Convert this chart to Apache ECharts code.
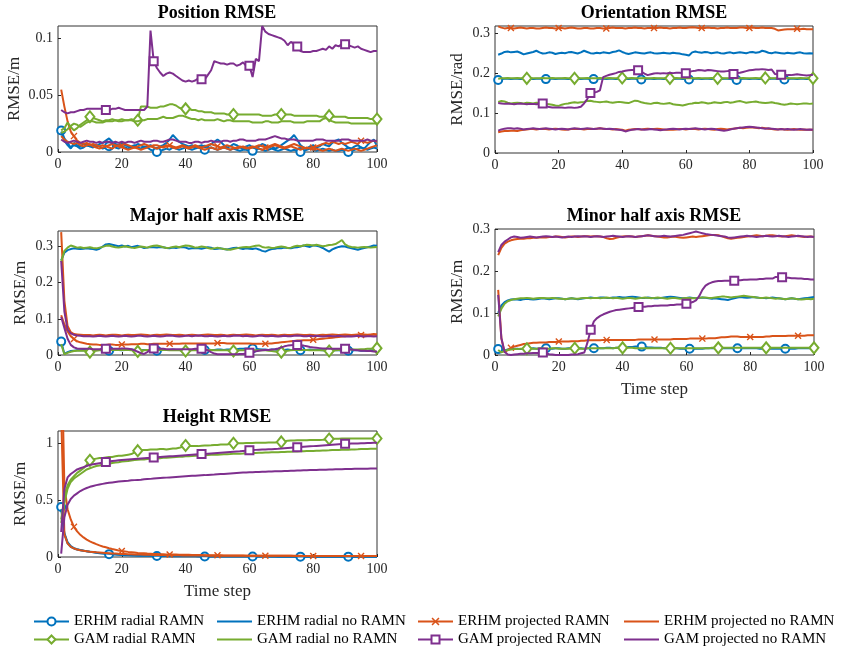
<!DOCTYPE html>
<html>
<head>
<meta charset="utf-8">
<script src="https://cdn.jsdelivr.net/npm/echarts@6/dist/echarts.min.js"></script>
<style>
html,body{margin:0;padding:0;background:#fff}
#chart{width:844px;height:651px}
</style>
</head>
<body>
<div id="chart"></div>
<script>
// ---------- time axis ----------
const steps = Array.from({length: 100}, (_, i) => i + 1);
const xTicks = [0, 20, 40, 60, 80, 100];

// ---------- Position RMSE (m) ----------
const posErhmRadialRamn = [
.019,.012,.008,.004,.006,.005,.003,.004,.006,.005,
.004,.006,.005,.003,.004,.005,.006,.004,.003,.005,
.004,.003,.005,.006,.004,.003,.005,.004,.002,.001,
0,.001,.002,.003,.002,.004,.003,.002,.003,.004,
.003,.002,.003,.004,.003,.002,.003,.004,.003,.002,
.003,.004,.003,.002,.003,.002,.001,.002,.002,.001,
.001,.002,.003,.002,.001,.002,.003,.002,.001,.002,
.003,.002,.001,.002,.001,0,.001,.002,.003,.002,
.001,.002,.003,.002,.001,.002,.001,.001,.002,.001,
0,.001,.002,.003,.004,.003,.002,.003,.004,.003];
const posErhmRadialNo = [
.018,.010,.006,.003,.008,.006,.005,.007,.006,.005,
.006,.005,.007,.008,.010,.012,.009,.007,.006,.008,
.006,.005,.004,.005,.007,.006,.004,.005,.006,.004,
.003,.005,.006,.008,.011,.015,.012,.009,.007,.006,
.005,.006,.004,.005,.006,.004,.005,.007,.009,.011,
.009,.006,.004,.005,.007,.006,.004,.003,.005,.006,
.004,.003,.005,.007,.006,.004,.005,.003,.004,.006,
.008,.010,.012,.015,.011,.006,.004,.003,.005,.006,
.004,.005,.007,.006,.005,.008,.010,.011,.008,.006,
.004,.003,.005,.006,.004,.003,.006,.009,.011,.005];
const posErhmProjRamn = [
.055,.040,.027,.018,.014,.010,.008,.007,.008,.006,
.007,.006,.005,.006,.005,.006,.007,.006,.005,.006,
.007,.006,.005,.004,.005,.006,.007,.006,.005,.006,
.006,.005,.004,.005,.006,.005,.004,.005,.006,.005,
.004,.005,.006,.005,.004,.005,.006,.007,.006,.005,
.004,.005,.006,.005,.004,.003,.004,.005,.004,.003,
.004,.005,.006,.005,.004,.005,.006,.007,.006,.005,
.004,.005,.006,.007,.006,.005,.004,.003,.004,.004,
.005,.006,.007,.008,.007,.009,.008,.007,.008,.007,
.008,.009,.008,.007,.010,.009,.008,.009,.010,.009];
const posErhmProjNo = [
.014,.011,.009,.008,.007,.008,.006,.005,.006,.007,
.005,.004,.003,.004,.005,.004,.003,.005,.006,.004,
.003,.002,.003,.004,.003,.002,.003,.004,.005,.004,
.003,.004,.005,.006,.005,.004,.003,.004,.005,.004,
.003,.004,.005,.004,.003,.002,.003,.004,.003,.002,
.003,.004,.003,.002,.003,.004,.005,.004,.003,.004,
.005,.004,.003,.002,.003,.004,.005,.006,.005,.004,
.003,.004,.005,.004,.003,.002,.003,.004,.003,.002,
.003,.002,.001,.002,.003,.002,.001,.002,.003,.002,
.001,.002,.003,.002,.001,.002,.003,.004,.005,.006];
const posGamRadialRamn = [
.019,.021,.026,.022,.019,.021,.024,.026,.028,.031,
.030,.029,.028,.027,.028,.028,.029,.028,.028,.029,
.028,.028,.029,.028,.028,.040,.040,.040,.039,.039,
.039,.040,.040,.041,.042,.042,.041,.039,.038,.038,
.038,.037,.037,.036,.036,.035,.035,.035,.034,.034,
.034,.034,.033,.033,.033,.033,.033,.033,.033,.033,
.033,.033,.033,.032,.032,.032,.032,.033,.033,.033,
.033,.033,.033,.032,.032,.032,.032,.032,.032,.032,
.032,.031,.031,.031,.032,.031,.031,.031,.031,.031,
.030,.030,.030,.030,.030,.030,.030,.029,.029,.029];
const posGamRadialNo = [
.017,.018,.020,.023,.025,.024,.022,.024,.026,.027,
.027,.026,.026,.026,.027,.027,.027,.028,.027,.027,
.028,.028,.028,.027,.027,.028,.028,.029,.029,.029,
.029,.030,.031,.030,.030,.030,.031,.032,.032,.031,
.030,.029,.029,.028,.029,.028,.028,.028,.028,.029,
.028,.027,.028,.028,.027,.027,.027,.027,.027,.027,
.026,.026,.026,.026,.027,.027,.026,.026,.026,.027,
.027,.027,.027,.026,.026,.026,.026,.027,.027,.027,
.027,.027,.029,.030,.028,.027,.026,.026,.026,.026,
.026,.025,.025,.025,.025,.025,.025,.025,.025,.025];
const posGamProjRamn = [
.037,.035,.034,.035,.035,.036,.037,.037,.038,.038,
.038,.038,.038,.038,.037,.037,.038,.038,.039,.038,
.037,.037,.037,.037,.037,.037,.037,.040,.107,.080,
.074,.070,.067,.069,.070,.069,.067,.065,.063,.062,
.063,.062,.063,.065,.064,.064,.068,.072,.080,.079,
.078,.078,.077,.078,.078,.076,.077,.079,.076,.076,
.066,.082,.080,.111,.106,.104,.103,.102,.101,.100,
.098,.094,.097,.095,.093,.089,.088,.088,.088,.089,
.089,.090,.091,.090,.093,.091,.094,.093,.095,.095,
.094,.093,.092,.093,.091,.090,.089,.088,.089,.089];
const posGamProjNo = [
.011,.009,.008,.009,.010,.009,.008,.009,.010,.009,
.009,.008,.009,.008,.009,.009,.008,.009,.008,.009,
.008,.009,.009,.008,.009,.010,.009,.009,.009,.010,
.010,.009,.009,.010,.011,.011,.010,.009,.009,.009,
.008,.008,.009,.009,.008,.009,.009,.010,.009,.009,
.009,.010,.010,.009,.010,.010,.011,.011,.010,.010,
.010,.010,.011,.011,.011,.012,.013,.014,.013,.012,
.012,.011,.011,.011,.010,.010,.010,.010,.010,.010,
.011,.011,.011,.010,.010,.010,.010,.010,.011,.011,
.011,.010,.010,.010,.010,.010,.011,.010,.010,.010];

// ---------- Orientation RMSE (rad) ----------
const oriErhmRadialRamn = [
.183,.185,.186,.186,.185,.186,.186,.185,.186,.186,
.186,.185,.186,.186,.186,.185,.186,.186,.185,.186,
.186,.186,.185,.186,.186,.186,.185,.186,.186,.185,
.185,.186,.186,.186,.185,.186,.186,.185,.186,.186,
.186,.185,.186,.186,.185,.184,.185,.186,.186,.185,
.186,.186,.185,.186,.186,.185,.186,.186,.185,.186,
.184,.185,.186,.186,.185,.186,.186,.185,.186,.186,
.185,.186,.186,.185,.184,.183,.185,.186,.186,.185,
.186,.186,.185,.186,.186,.185,.186,.186,.185,.186,
.184,.185,.186,.186,.185,.186,.186,.185,.186,.186];
const oriErhmRadialNo = [
.246,.249,.253,.254,.252,.253,.254,.251,.247,.249,
.251,.253,.256,.252,.249,.250,.252,.251,.248,.250,
.251,.250,.252,.253,.251,.249,.252,.256,.253,.250,
.249,.251,.250,.252,.251,.250,.253,.254,.257,.253,
.250,.248,.250,.252,.251,.250,.249,.251,.252,.250,
.249,.250,.251,.250,.249,.251,.250,.249,.247,.246,
.244,.252,.254,.252,.251,.253,.252,.250,.251,.252,
.250,.249,.251,.252,.250,.251,.252,.251,.250,.252,
.253,.251,.252,.256,.254,.251,.250,.252,.251,.250,
.249,.251,.250,.249,.251,.252,.250,.249,.250,.249];
const oriErhmProjRamn = [
.317,.314,.312,.313,.313,.312,.313,.314,.313,.312,
.313,.313,.312,.312,.313,.314,.313,.313,.312,.313,
.313,.312,.313,.314,.313,.312,.312,.313,.313,.312,
.312,.313,.313,.312,.312,.313,.314,.313,.313,.313,
.312,.313,.313,.314,.313,.313,.312,.313,.313,.313,
.313,.314,.313,.313,.312,.313,.313,.314,.313,.313,
.314,.315,.314,.313,.313,.313,.314,.313,.313,.312,
.313,.313,.314,.313,.313,.313,.314,.314,.313,.313,
.314,.313,.313,.314,.313,.313,.313,.311,.307,.308,
.309,.310,.310,.310,.311,.310,.311,.310,.310,.310];
const oriErhmProjNo = [
.052,.054,.055,.055,.056,.056,.055,.057,.058,.059,
.060,.060,.059,.060,.061,.060,.059,.060,.061,.060,
.059,.058,.059,.060,.060,.061,.060,.059,.060,.061,
.060,.061,.062,.061,.060,.060,.059,.060,.059,.058,
.056,.058,.059,.060,.060,.059,.060,.061,.060,.060,
.061,.060,.059,.058,.059,.058,.059,.060,.060,.059,
.060,.061,.060,.059,.060,.061,.060,.059,.058,.060,
.061,.060,.059,.060,.061,.062,.063,.062,.063,.064,
.064,.063,.062,.063,.062,.061,.060,.059,.059,.060,
.059,.058,.059,.060,.059,.058,.059,.058,.058,.058];
const oriGamRadialRamn = [
.186,.187,.187,.188,.187,.187,.188,.187,.187,.187,
.188,.187,.187,.187,.188,.187,.187,.188,.187,.187,
.187,.188,.187,.187,.187,.188,.187,.187,.188,.187,
.187,.187,.188,.187,.187,.188,.187,.187,.187,.188,
.187,.187,.188,.187,.187,.187,.188,.187,.187,.188,
.187,.187,.187,.188,.187,.187,.188,.187,.187,.187,
.188,.187,.187,.188,.187,.187,.187,.188,.187,.187,
.188,.187,.187,.187,.188,.187,.187,.188,.187,.187,
.187,.188,.187,.187,.188,.187,.187,.187,.188,.187,
.187,.188,.187,.187,.187,.188,.187,.187,.188,.187];
const oriGamRadialNo = [
.128,.130,.129,.126,.124,.125,.126,.125,.124,.126,
.125,.124,.126,.125,.124,.123,.122,.121,.119,.118,
.121,.123,.124,.126,.127,.126,.127,.128,.130,.131,
.129,.128,.127,.128,.129,.127,.126,.127,.128,.127,
.126,.125,.128,.131,.130,.127,.125,.124,.123,.125,
.126,.124,.123,.124,.125,.122,.121,.120,.119,.121,
.123,.124,.126,.125,.127,.126,.124,.125,.127,.126,
.125,.127,.128,.126,.127,.129,.130,.128,.126,.127,
.128,.129,.127,.126,.125,.126,.127,.125,.124,.122,
.121,.122,.124,.123,.122,.123,.124,.124,.123,.124];
const oriGamProjRamn = [
.125,.124,.123,.124,.123,.122,.123,.124,.123,.122,
.123,.123,.122,.123,.124,.118,.115,.114,.114,.114,
.114,.113,.114,.114,.113,.114,.116,.124,.135,.150,
.151,.153,.157,.190,.193,.196,.198,.200,.203,.204,
.206,.207,.208,.208,.207,.204,.199,.195,.197,.199,
.200,.199,.200,.199,.201,.200,.201,.201,.200,.200,
.203,.205,.206,.208,.207,.206,.208,.207,.206,.205,
.204,.204,.205,.206,.198,.200,.201,.203,.205,.207,
.208,.209,.209,.210,.209,.208,.209,.198,.197,.196,
.196,.195,.195,.196,.197,.196,.195,.194,.195,.196];
const oriGamProjNo = [
.056,.059,.061,.062,.062,.061,.062,.061,.059,.060,
.061,.062,.061,.060,.061,.062,.061,.060,.059,.060,
.061,.060,.059,.061,.062,.061,.060,.061,.062,.061,
.060,.061,.062,.061,.060,.061,.060,.059,.058,.057,
.054,.056,.058,.059,.060,.059,.058,.059,.060,.059,
.058,.057,.058,.059,.060,.061,.060,.059,.060,.061,
.060,.061,.062,.061,.060,.059,.060,.061,.060,.058,
.057,.056,.057,.059,.061,.062,.063,.064,.065,.066,
.065,.064,.063,.062,.061,.062,.061,.060,.059,.060,
.059,.060,.059,.058,.059,.060,.059,.058,.059,.058];

// ---------- Major half axis RMSE (m) ----------
const majErhmRadialRamn = [
.037,.003,.008,.011,.012,.013,.013,.014,.013,.013,
.013,.014,.014,.013,.013,.012,.013,.014,.014,.013,
.014,.014,.015,.014,.014,.013,.014,.014,.013,.013,
.012,.013,.014,.014,.014,.015,.014,.014,.013,.014,
.014,.014,.015,.015,.014,.014,.015,.014,.014,.015,
.015,.014,.015,.015,.016,.016,.017,.017,.018,.018,
.018,.017,.016,.015,.015,.014,.015,.015,.014,.014,
.014,.015,.014,.014,.013,.013,.014,.014,.015,.014,
.014,.014,.013,.013,.014,.014,.013,.013,.012,.012,
.012,.012,.013,.013,.012,.012,.012,.013,.012,.012];
const majErhmRadialNo = [
.262,.283,.290,.293,.295,.294,.293,.294,.295,.294,
.293,.291,.294,.300,.306,.307,.305,.303,.301,.303,
.300,.302,.298,.300,.302,.299,.296,.297,.299,.298,
.297,.299,.298,.296,.295,.297,.296,.298,.299,.297,
.294,.295,.296,.295,.294,.296,.298,.297,.293,.294,
.295,.293,.292,.294,.296,.297,.295,.293,.295,.294,
.293,.295,.292,.288,.286,.290,.293,.294,.296,.295,
.297,.296,.295,.297,.298,.300,.303,.301,.299,.303,
.302,.300,.296,.291,.286,.292,.296,.299,.301,.300,
.297,.295,.293,.291,.294,.296,.298,.300,.303,.302];
const majErhmProjRamn = [
.110,.085,.065,.052,.044,.038,.035,.033,.031,.030,
.029,.029,.028,.028,.028,.029,.029,.028,.028,.029,
.029,.029,.030,.030,.030,.031,.031,.030,.030,.031,
.031,.031,.031,.031,.031,.031,.031,.031,.032,.032,
.032,.032,.032,.032,.032,.032,.032,.032,.032,.033,
.033,.033,.032,.032,.032,.032,.032,.032,.032,.032,
.031,.031,.031,.031,.031,.032,.032,.033,.034,.035,
.036,.037,.038,.039,.040,.040,.041,.041,.041,.042,
.043,.044,.045,.046,.047,.048,.049,.050,.051,.052,
.053,.053,.054,.054,.055,.055,.055,.055,.056,.056];
const majErhmProjNo = [
.340,.150,.080,.063,.058,.057,.056,.055,.055,.055,
.054,.055,.056,.055,.054,.055,.056,.056,.055,.054,
.055,.056,.055,.055,.056,.057,.056,.055,.054,.055,
.056,.055,.056,.057,.056,.055,.055,.056,.055,.054,
.055,.056,.055,.054,.055,.056,.057,.056,.055,.055,
.056,.055,.054,.055,.056,.055,.055,.056,.057,.056,
.055,.054,.055,.056,.055,.055,.056,.055,.054,.055,
.056,.055,.055,.056,.057,.056,.055,.055,.056,.055,
.054,.055,.056,.055,.056,.057,.056,.055,.056,.057,
.056,.055,.056,.057,.058,.057,.056,.057,.058,.057];
const majGamRadialRamn = [
.030,.002,.006,.009,.011,.012,.012,.012,.011,.008,
.011,.012,.013,.013,.013,.013,.014,.014,.014,.014,
.014,.014,.013,.012,.010,.012,.013,.014,.014,.014,
.014,.014,.014,.014,.013,.013,.013,.013,.012,.011,
.012,.013,.013,.013,.013,.014,.014,.014,.013,.013,
.013,.013,.013,.012,.011,.012,.013,.013,.013,.014,
.014,.013,.013,.013,.013,.012,.011,.010,.009,.008,
.010,.012,.013,.014,.014,.014,.014,.014,.013,.013,
.013,.013,.013,.012,.011,.012,.013,.014,.014,.015,
.015,.015,.015,.015,.016,.016,.017,.017,.018,.019];
const majGamRadialNo = [
.258,.288,.297,.303,.300,.297,.298,.296,.297,.298,
.296,.295,.297,.299,.302,.303,.300,.298,.297,.299,
.301,.299,.297,.296,.298,.300,.299,.297,.300,.302,
.303,.301,.298,.296,.297,.299,.300,.298,.301,.303,
.302,.300,.297,.298,.300,.299,.296,.294,.295,.297,
.295,.293,.292,.291,.293,.295,.297,.298,.299,.298,
.300,.302,.303,.299,.297,.298,.296,.297,.299,.300,
.299,.296,.297,.300,.302,.301,.303,.305,.304,.303,
.305,.303,.301,.302,.304,.305,.307,.312,.318,.306,
.301,.299,.298,.297,.298,.299,.298,.297,.298,.299];
const majGamProjRamn = [
.105,.075,.045,.028,.021,.018,.017,.017,.017,.017,
.016,.016,.016,.017,.017,.017,.017,.017,.017,.018,
.018,.017,.016,.013,.009,.005,.003,.008,.016,.018,
.018,.017,.017,.016,.016,.016,.016,.016,.016,.016,
.016,.016,.017,.017,.017,.016,.013,.008,.004,.002,
.002,.002,.002,.002,.002,.002,.003,.003,.004,.006,
.008,.010,.012,.013,.014,.014,.015,.016,.018,.021,
.024,.026,.027,.028,.028,.027,.026,.024,.022,.021,
.020,.019,.018,.018,.017,.017,.017,.017,.017,.017,
.016,.015,.014,.013,.012,.012,.011,.011,.010,.010];
const majGamProjNo = [
.260,.120,.070,.060,.056,.054,.053,.052,.052,.052,
.051,.052,.053,.052,.051,.052,.053,.052,.051,.052,
.053,.052,.051,.052,.053,.053,.052,.051,.052,.053,
.052,.051,.052,.053,.054,.053,.052,.051,.052,.053,
.053,.052,.053,.054,.053,.052,.052,.053,.052,.051,
.052,.053,.052,.052,.053,.054,.053,.052,.053,.052,
.051,.052,.053,.053,.052,.052,.053,.052,.051,.052,
.053,.052,.052,.053,.054,.053,.052,.052,.053,.052,
.053,.052,.051,.052,.053,.052,.052,.053,.052,.051,
.052,.051,.052,.053,.052,.051,.052,.052,.051,.052];

// ---------- Minor half axis RMSE (m) ----------
const minErhmRadialRamn = [
.014,.008,.011,.013,.014,.015,.015,.014,.015,.015,
.015,.016,.015,.015,.016,.016,.015,.015,.016,.016,
.015,.015,.016,.016,.015,.016,.016,.015,.016,.016,
.016,.017,.016,.016,.017,.017,.016,.017,.017,.018,
.018,.019,.019,.020,.020,.020,.019,.018,.018,.017,
.017,.017,.016,.016,.016,.016,.016,.015,.015,.015,
.015,.015,.015,.015,.015,.016,.016,.016,.016,.016,
.016,.016,.016,.016,.016,.016,.016,.016,.016,.016,
.016,.016,.015,.015,.015,.015,.015,.015,.015,.015,
.015,.015,.015,.015,.016,.016,.016,.016,.016,.016];
const minErhmRadialNo = [
.100,.118,.126,.130,.132,.133,.132,.131,.133,.134,
.133,.132,.133,.134,.135,.134,.133,.134,.135,.135,
.134,.133,.134,.135,.134,.133,.134,.135,.136,.137,
.136,.136,.137,.137,.136,.136,.137,.137,.138,.137,
.137,.138,.139,.138,.137,.136,.136,.137,.136,.135,
.135,.136,.137,.138,.139,.138,.137,.136,.135,.136,
.137,.136,.135,.136,.137,.136,.135,.134,.135,.134,
.133,.132,.131,.133,.135,.137,.138,.137,.136,.137,
.138,.137,.136,.136,.135,.136,.137,.136,.135,.134,
.133,.134,.135,.134,.133,.134,.135,.136,.137,.138];
const minErhmProjRamn = [
.155,.040,.006,.012,.017,.020,.022,.024,.026,.027,
.028,.029,.029,.030,.030,.030,.031,.031,.031,.032,
.032,.032,.032,.033,.033,.033,.034,.034,.035,.035,
.035,.035,.035,.036,.036,.036,.036,.036,.036,.036,
.036,.036,.036,.036,.037,.037,.037,.037,.037,.037,
.037,.037,.037,.037,.037,.038,.038,.038,.038,.038,
.039,.039,.039,.039,.039,.039,.040,.040,.040,.041,
.042,.042,.043,.044,.044,.044,.043,.043,.043,.043,
.043,.043,.043,.043,.044,.044,.045,.045,.045,.045,
.045,.046,.046,.046,.046,.046,.046,.047,.047,.047];
const minErhmProjNo = [
.238,.255,.265,.270,.273,.275,.276,.277,.277,.278,
.278,.279,.279,.280,.280,.280,.281,.281,.282,.282,
.281,.280,.281,.282,.282,.281,.282,.283,.283,.282,
.283,.283,.282,.281,.278,.276,.277,.279,.281,.282,
.283,.283,.282,.281,.282,.283,.284,.285,.284,.283,
.282,.281,.280,.280,.281,.282,.281,.280,.279,.280,
.281,.282,.281,.282,.283,.284,.285,.286,.286,.285,
.283,.280,.278,.277,.278,.279,.280,.281,.282,.283,
.284,.285,.284,.283,.284,.285,.285,.284,.283,.282,
.283,.284,.285,.284,.283,.282,.281,.282,.282,.281];
const minGamRadialRamn = [
.012,.006,.010,.012,.013,.014,.014,.015,.015,.015,
.016,.015,.015,.016,.016,.015,.015,.016,.016,.015,
.015,.015,.015,.016,.016,.015,.015,.015,.016,.016,
.016,.016,.016,.016,.016,.016,.016,.017,.017,.017,
.017,.017,.017,.016,.016,.016,.016,.016,.016,.016,
.016,.016,.016,.016,.016,.016,.016,.016,.016,.016,
.016,.016,.016,.016,.016,.016,.016,.017,.017,.017,
.017,.017,.017,.017,.017,.017,.017,.017,.017,.017,
.017,.017,.017,.017,.017,.017,.017,.017,.017,.017,
.017,.017,.017,.017,.017,.017,.017,.017,.017,.017];
const minGamRadialNo = [
.092,.110,.122,.128,.131,.133,.134,.135,.135,.136,
.135,.134,.135,.136,.136,.135,.135,.136,.135,.134,
.134,.133,.134,.135,.134,.134,.135,.136,.136,.135,
.136,.136,.135,.136,.137,.136,.135,.136,.135,.134,
.135,.136,.135,.134,.135,.136,.137,.136,.135,.136,
.137,.136,.135,.134,.135,.136,.135,.134,.135,.136,
.136,.135,.135,.136,.137,.137,.136,.136,.137,.138,
.139,.139,.138,.137,.138,.139,.140,.141,.140,.139,
.138,.137,.136,.136,.137,.136,.135,.134,.135,.134,
.133,.134,.135,.134,.133,.132,.133,.134,.133,.134];
const minGamProjRamn = [
.143,.040,.008,.001,0,.001,.002,.003,.003,.004,
.004,.005,.005,.005,.006,.004,.002,.001,0,0,
0,0,0,.001,.001,.002,.004,.006,.030,.060,
.080,.088,.093,.097,.100,.103,.105,.107,.108,.109,
.110,.111,.112,.113,.114,.115,.115,.116,.116,.117,
.117,.118,.118,.118,.119,.119,.120,.120,.121,.122,
.124,.126,.130,.140,.155,.165,.170,.173,.175,.176,
.176,.177,.177,.177,.177,.178,.178,.179,.179,.180,
.180,.180,.181,.181,.182,.182,.182,.186,.186,.185,
.184,.184,.183,.183,.182,.182,.181,.181,.180,.180];
const minGamProjNo = [
.245,.262,.270,.275,.280,.282,.281,.279,.280,.281,
.282,.281,.280,.281,.282,.283,.282,.281,.282,.281,
.280,.281,.282,.281,.282,.283,.282,.283,.282,.281,
.282,.283,.282,.281,.282,.283,.284,.283,.282,.281,
.282,.283,.282,.281,.282,.283,.284,.285,.284,.283,
.282,.283,.284,.283,.282,.283,.284,.285,.286,.288,
.290,.292,.294,.292,.290,.288,.287,.286,.285,.284,
.283,.282,.280,.279,.280,.281,.282,.283,.284,.283,
.282,.281,.282,.283,.284,.283,.282,.283,.284,.283,
.282,.281,.282,.283,.284,.283,.282,.281,.282,.281];

// ---------- Height RMSE (m) ----------
const hgtErhmRadialRamn = [
.440,.200,.120,.090,.075,.065,.060,.055,.050,.045,
.041,.037,.034,.031,.028,.025,.023,.021,.019,.017,
.016,.015,.014,.013,.012,.011,.011,.010,.010,.009,
.009,.008,.008,.008,.007,.007,.007,.007,.006,.006,
.006,.006,.006,.005,.005,.005,.005,.005,.005,.005,
.005,.005,.004,.004,.004,.004,.004,.004,.004,.004,
.004,.004,.004,.004,.004,.004,.004,.004,.003,.003,
.003,.003,.003,.003,.003,.003,.003,.003,.003,.003,
.003,.003,.003,.003,.003,.003,.003,.003,.003,.003,
.003,.003,.003,.003,.003,.003,.003,.003,.003,.003];
const hgtErhmRadialNo = [
.420,.210,.130,.095,.078,.068,.061,.056,.051,.047,
.043,.039,.036,.033,.030,.028,.026,.024,.022,.020,
.019,.018,.017,.016,.015,.014,.013,.013,.012,.012,
.011,.011,.010,.010,.010,.009,.009,.009,.009,.008,
.008,.008,.008,.008,.007,.007,.007,.007,.007,.007,
.007,.007,.006,.006,.006,.006,.006,.006,.006,.006,
.006,.006,.006,.006,.006,.006,.005,.005,.005,.005,
.005,.005,.005,.005,.005,.005,.005,.005,.005,.005,
.005,.005,.005,.005,.005,.005,.005,.005,.005,.005,
.005,.005,.005,.005,.005,.005,.005,.005,.005,.005];
const hgtErhmProjRamn = [
2.00,.620,.420,.330,.265,.225,.195,.172,.153,.138,
.125,.113,.102,.093,.085,.077,.070,.064,.058,.053,
.049,.045,.042,.039,.036,.034,.032,.030,.029,.027,
.026,.025,.024,.023,.022,.021,.021,.020,.020,.019,
.019,.018,.018,.017,.017,.016,.016,.016,.015,.015,
.015,.014,.014,.014,.013,.013,.013,.013,.012,.012,
.012,.012,.011,.011,.011,.011,.011,.010,.010,.010,
.010,.010,.010,.009,.009,.009,.009,.009,.009,.009,
.009,.009,.009,.008,.008,.008,.008,.008,.008,.008,
.008,.008,.008,.008,.008,.008,.008,.008,.008,.008];
const hgtErhmProjNo = [
1.25,.200,.120,.090,.075,.066,.060,.055,.051,.047,
.044,.041,.039,.037,.035,.033,.031,.030,.028,.027,
.026,.025,.024,.023,.022,.021,.020,.020,.019,.018,
.018,.017,.017,.016,.016,.015,.015,.015,.014,.014,
.014,.014,.013,.013,.013,.013,.012,.012,.012,.012,
.012,.012,.011,.011,.011,.011,.011,.011,.011,.011,
.011,.010,.010,.010,.010,.010,.010,.010,.010,.010,
.010,.010,.010,.010,.010,.010,.009,.009,.009,.009,
.009,.009,.009,.009,.009,.009,.009,.009,.009,.009,
.009,.009,.009,.009,.009,.009,.009,.009,.009,.009];
const hgtGamRadialRamn = [
.330,.520,.630,.680,.710,.740,.760,.780,.810,.850,
.860,.865,.870,.870,.875,.880,.880,.885,.890,.890,
.895,.900,.905,.920,.935,.940,.940,.940,.945,.945,
.945,.950,.950,.945,.950,.955,.955,.960,.970,.980,
.975,.975,.975,.975,.978,.980,.980,.982,.985,.985,
.990,.990,.990,.995,1.00,1.00,1.00,1.00,1.002,1.003,
1.003,1.004,1.004,1.005,1.005,1.006,1.006,1.007,1.008,1.012,
1.018,1.022,1.025,1.025,1.026,1.026,1.027,1.027,1.028,1.028,
1.029,1.029,1.030,1.032,1.038,1.040,1.040,1.040,1.041,1.041,
1.041,1.041,1.041,1.042,1.042,1.042,1.042,1.042,1.042,1.042];
const hgtGamRadialNo = [
.300,.480,.600,.660,.690,.710,.730,.750,.770,.780,
.790,.800,.805,.812,.815,.820,.826,.830,.834,.840,
.843,.845,.849,.852,.856,.857,.858,.861,.864,.865,
.866,.869,.872,.873,.874,.877,.880,.881,.882,.885,
.887,.888,.890,.893,.893,.894,.896,.899,.899,.900,
.902,.904,.904,.905,.907,.909,.909,.910,.912,.914,
.914,.915,.917,.917,.918,.919,.921,.921,.922,.924,
.924,.925,.926,.928,.928,.929,.930,.932,.932,.933,
.934,.935,.937,.937,.938,.940,.940,.941,.943,.943,
.944,.946,.946,.947,.949,.949,.950,.951,.952,.953];
const hgtGamProjRamn = [
.220,.600,.700,.730,.750,.770,.780,.790,.800,.810,
.815,.820,.825,.830,.835,.840,.844,.847,.850,.853,
.856,.858,.860,.862,.864,.866,.868,.870,.872,.875,
.877,.879,.881,.883,.885,.887,.889,.891,.893,.895,
.897,.899,.901,.903,.905,.906,.909,.911,.913,.915,
.917,.919,.921,.923,.925,.927,.929,.932,.935,.938,
.940,.942,.944,.945,.946,.947,.948,.950,.952,.955,
.957,.959,.961,.963,.965,.967,.969,.971,.973,.975,
.977,.979,.981,.983,.985,.987,.989,.991,.993,.995,
.996,.997,.998,.999,1.00,1.001,1.002,1.003,1.004,1.005];
const hgtGamProjNo = [
.030,.350,.460,.510,.540,.560,.580,.595,.607,.617,
.625,.632,.638,.643,.648,.652,.656,.660,.663,.666,
.669,.671,.674,.676,.678,.680,.683,.685,.687,.690,
.692,.694,.696,.698,.700,.702,.704,.706,.708,.710,
.712,.714,.715,.717,.719,.720,.722,.724,.725,.727,
.729,.730,.732,.734,.736,.738,.740,.742,.744,.745,
.746,.747,.748,.749,.750,.751,.752,.753,.754,.755,
.756,.757,.758,.759,.760,.761,.762,.763,.764,.765,
.766,.767,.767,.768,.769,.770,.771,.771,.772,.773,
.773,.774,.775,.775,.776,.777,.777,.778,.778,.779];

// ---------- series styles ----------
const seriesNames = ['ERHM radial RAMN', 'ERHM radial no RAMN', 'ERHM projected RAMN', 'ERHM projected no RAMN',
                     'GAM radial RAMN', 'GAM radial no RAMN', 'GAM projected RAMN', 'GAM projected no RAMN'];
const seriesColors = ['#0072BD', '#0072BD', '#D95319', '#D95319', '#77AC30', '#77AC30', '#7E2F8E', '#7E2F8E'];
const crossPath = 'path://M0,1.4L1.4,0L5,3.6L8.6,0L10,1.4L6.4,5L10,8.6L8.6,10L5,6.4L1.4,10L0,8.6L3.6,5Z';
const seriesSymbols = ['emptyCircle', 'none', crossPath, 'none', 'emptyDiamond', 'none', 'emptyRect', 'none'];
const symbolSizes = [[8, 8], 0, [7, 7], 0, [9, 11], 0, [8, 8], 0];
const markerFirst = [1, 0, 5, 0, 10, 0, 15, 0];   // markers every 15 steps
const markerEvery = 15;

const panels = [
  { title: 'Position RMSE', yName: 'RMSE/m', yMax: 0.111, yTicks: [0, 0.05, 0.1], nameGap: 35, xName: '',
    grid: { left: 58, top: 26, width: 319, height: 126 }, titleX: 217, titleY: 4,
    data: [posErhmRadialRamn, posErhmRadialNo, posErhmProjRamn, posErhmProjNo, posGamRadialRamn, posGamRadialNo, posGamProjRamn, posGamProjNo] },
  { title: 'Orientation RMSE', yName: 'RMSE/rad', yMax: 0.318, yTicks: [0, 0.1, 0.2, 0.3], nameGap: 29, xName: '',
    grid: { left: 495, top: 26, width: 318, height: 127 }, titleX: 654, titleY: 4,
    data: [oriErhmRadialRamn, oriErhmRadialNo, oriErhmProjRamn, oriErhmProjNo, oriGamRadialRamn, oriGamRadialNo, oriGamProjRamn, oriGamProjNo] },
  { title: 'Major half axis RMSE', yName: 'RMSE/m', yMax: 0.343, yTicks: [0, 0.1, 0.2, 0.3], nameGap: 29, xName: '',
    grid: { left: 58, top: 231, width: 319, height: 124 }, titleX: 217, titleY: 207,
    data: [majErhmRadialRamn, majErhmRadialNo, majErhmProjRamn, majErhmProjNo, majGamRadialRamn, majGamRadialNo, majGamProjRamn, majGamProjNo] },
  { title: 'Minor half axis RMSE', yName: 'RMSE/m', yMax: 0.3, yTicks: [0, 0.1, 0.2, 0.3], nameGap: 29, xName: 'Time step',
    grid: { left: 495, top: 229, width: 319, height: 126 }, titleX: 654, titleY: 207,
    data: [minErhmRadialRamn, minErhmRadialNo, minErhmProjRamn, minErhmProjNo, minGamRadialRamn, minGamRadialNo, minGamProjRamn, minGamProjNo] },
  { title: 'Height RMSE', yName: 'RMSE/m', yMax: 1.108, yTicks: [0, 0.5, 1], nameGap: 29, xName: 'Time step',
    grid: { left: 58, top: 431, width: 319, height: 126 }, titleX: 217, titleY: 408,
    data: [hgtErhmRadialRamn, hgtErhmRadialNo, hgtErhmProjRamn, hgtErhmProjNo, hgtGamRadialRamn, hgtGamRadialNo, hgtGamProjRamn, hgtGamProjNo] }
];

// legend placement: two rows of four entries
const legendCols = [33, 216, 417, 623];
const legendRows = [614, 632];

const FONT = "'Liberation Serif', 'DejaVu Serif', serif";
const INK = '#262626';

const option = {
  backgroundColor: '#fff',
  animation: false,
  title: panels.map(p => ({
    text: p.title, left: p.titleX, top: p.titleY, textAlign: 'center', padding: 0,
    textStyle: { fontFamily: FONT, fontSize: 18, fontWeight: 'bold', color: '#000' }
  })),
  grid: panels.map(p => Object.assign({ show: true, borderColor: '#333', borderWidth: 1, backgroundColor: 'transparent', containLabel: false }, p.grid)),
  xAxis: panels.map((p, i) => ({
    type: 'value', gridIndex: i, min: 0, max: 100, interval: 20,
    name: p.xName, nameLocation: 'middle', nameGap: 26,
    nameTextStyle: { fontFamily: FONT, fontSize: 17, color: INK },
    axisLine: { show: false },
    axisTick: { show: true, inside: true, length: 3, lineStyle: { color: INK } },
    axisLabel: { fontFamily: FONT, fontSize: 14, color: INK, margin: 5, customValues: xTicks },
    splitLine: { show: false }
  })),
  yAxis: panels.map((p, i) => ({
    type: 'value', gridIndex: i, min: 0, max: p.yMax,
    name: p.yName, nameLocation: 'middle', nameGap: p.nameGap, nameRotate: 90,
    nameTextStyle: { fontFamily: FONT, fontSize: 17, color: INK },
    axisLine: { show: false },
    axisTick: { show: true, inside: true, length: 3, lineStyle: { color: INK }, customValues: p.yTicks },
    axisLabel: { fontFamily: FONT, fontSize: 14, color: INK, margin: 5, customValues: p.yTicks },
    splitLine: { show: false }
  })),
  legend: seriesNames.map((name, k) => ({
    data: [name],
    left: legendCols[k % 4], top: legendRows[Math.floor(k / 4)],
    padding: 0, itemWidth: 35, itemHeight: 10, itemGap: 0,
    selectedMode: false,
    itemStyle: markerFirst[k] ? {} : { opacity: 0 },
    textStyle: { fontFamily: FONT, fontSize: 15, color: '#000' }
  })),
  series: []
};

panels.forEach((p, i) => {
  p.data.forEach((vals, k) => {
    const first = markerFirst[k];
    option.series.push({
      type: 'line',
      name: seriesNames[k],
      xAxisIndex: i, yAxisIndex: i,
      data: steps.map((s, j) => [s, vals[j]]),
      symbol: seriesSymbols[k],
      showAllSymbol: true,
      symbolSize: first ? (v => ((v[0] - first) % markerEvery === 0 && v[0] >= first) ? symbolSizes[k] : 0) : 0,
      color: seriesColors[k],
      itemStyle: { color: seriesColors[k], borderWidth: 1.6 },
      lineStyle: { width: 2, color: seriesColors[k] },
      emphasis: { disabled: true },
      clip: true,
      z: 2 + k
    });
  });
});

const chart = echarts.init(document.getElementById('chart'), null, { renderer: 'canvas' });
chart.setOption(option);
</script>
</body>
</html>
